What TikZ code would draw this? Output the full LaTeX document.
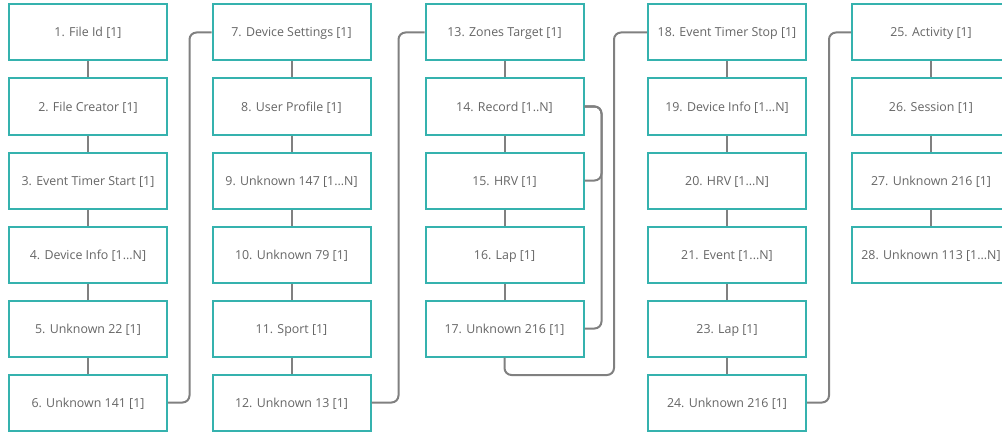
\documentclass[tikz,border=0pt]{standalone}
\usepackage{fontspec}
\setmainfont{Open Sans}
\definecolor{boxteal}{HTML}{35B2AE}
\definecolor{txtgray}{HTML}{666666}
\definecolor{lngray}{HTML}{808080}
\begin{document}
\begin{tikzpicture}[x=1pt,y=-1pt,
  rec/.style={draw=boxteal, line width=2pt, fill=white, minimum width=158pt, minimum height=56pt,
    inner sep=0pt, text height=9pt, text depth=0pt, text=txtgray, font=\fontsize{12.4}{15}\selectfont},
  conn/.style={draw=lngray, line width=2pt, rounded corners=7pt}]
\useasboundingbox (0,0) rectangle (1002,436);
\begin{scope}
\clip (0,0) rectangle (1002,436);
% column 1
\node[rec] (n1) at (88,32.5) {1. File Id [1]};
\node[rec] (n2) at (88,106.5) {2. File Creator [1]};
\node[rec] (n3) at (88,180.5) {3. Event Timer Start [1]};
\node[rec] (n4) at (88,254.5) {4. Device Info [1...N]};
\node[rec] (n5) at (88,328.5) {5. Unknown 22 [1]};
\node[rec] (n6) at (88,402.5) {6. Unknown 141 [1]};
% column 2
\node[rec] (n7) at (291.5,32.5) {7. Device Settings [1]};
\node[rec] (n8) at (291.5,106.5) {8. User Profile [1]};
\node[rec] (n9) at (291.5,180.5) {9. Unknown 147 [1...N]};
\node[rec] (n10) at (291.5,254.5) {10. Unknown 79 [1]};
\node[rec] (n11) at (291.5,328.5) {11. Sport [1]};
\node[rec] (n12) at (291.5,402.5) {12. Unknown 13 [1]};
% column 3
\node[rec] (n13) at (504.5,32.5) {13. Zones Target [1]};
\node[rec] (n14) at (504.5,106.5) {14. Record [1..N]};
\node[rec] (n15) at (504.5,180.5) {15. HRV [1]};
\node[rec] (n16) at (504.5,254.5) {16. Lap [1]};
\node[rec] (n17) at (504.5,328.5) {17. Unknown 216 [1]};
% column 4
\node[rec] (n18) at (727,32.5) {18. Event Timer Stop [1]};
\node[rec] (n19) at (727,106.5) {19. Device Info [1...N]};
\node[rec] (n20) at (727,180.5) {20. HRV [1...N]};
\node[rec] (n21) at (727,254.5) {21. Event [1...N]};
\node[rec] (n23) at (727,328.5) {23. Lap [1]};
\node[rec] (n24) at (727,402.5) {24. Unknown 216 [1]};
% column 5
\node[rec] (n25) at (931,32.5) {25. Activity [1]};
\node[rec] (n26) at (931,106.5) {26. Session [1]};
\node[rec] (n27) at (931,180.5) {27. Unknown 216 [1]};
\node[rec] (n28) at (931,254.5) {28. Unknown 113 [1...N]};
\end{scope}
% vertical connectors
\foreach \a/\b in {n1/n2,n2/n3,n3/n4,n4/n5,n5/n6,n7/n8,n8/n9,n9/n10,n10/n11,n11/n12,
  n13/n14,n14/n15,n15/n16,n16/n17,n18/n19,n19/n20,n20/n21,n21/n23,n23/n24,n25/n26,n26/n27,n27/n28}
  \draw[conn] (\a.south) -- (\b.north);
% cross connectors
\coordinate (c6a) at (189.5,402.5);
\coordinate (c6b) at (189.5,32.5);
\draw[conn] (n6.east) -- (c6a) -- (c6b) -- (n7.west);
\coordinate (c12a) at (398.5,402.5);
\coordinate (c12b) at (398.5,32.5);
\draw[conn] (n12.east) -- (c12a) -- (c12b) -- (n13.west);
\coordinate (c14a) at (601.5,106.5);
\coordinate (c14b) at (601.5,180.5);
\coordinate (c14c) at (601.5,328.5);
\draw[conn] (n14.east) -- (c14a) -- (c14b) -- (n15.east);
\draw[conn] (n14.east) -- (c14a) -- (c14c) -- (n17.east);
\coordinate (c17a) at (504.5,375);
\coordinate (c17b) at (614,375);
\coordinate (c17c) at (614,32.5);
\draw[conn] (n17.south) -- (c17a) -- (c17b) -- (c17c) -- (n18.west);
\coordinate (c24a) at (829,402.5);
\coordinate (c24b) at (829,32.5);
\draw[conn] (n24.east) -- (c24a) -- (c24b) -- (n25.west);
\end{tikzpicture}
\end{document}
